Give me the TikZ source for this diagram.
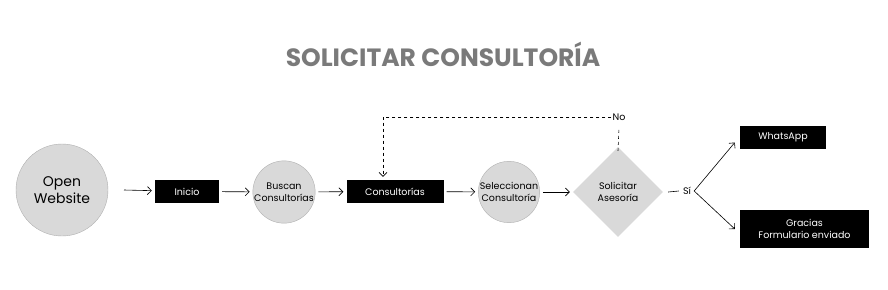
\documentclass[tikz,border=0pt]{standalone}
\usepackage{fontspec}
\setmainfont{Poppins}
\usetikzlibrary{positioning,shapes.geometric,arrows.meta}
\definecolor{circfill}{HTML}{D9D9D9}
\definecolor{circline}{HTML}{B0B0B0}
\definecolor{titlegray}{HTML}{7A7A7A}

\begin{document}
\begin{tikzpicture}[x=1pt, y=-1pt, every node/.style={font=\fontsize{9.5}{12}\selectfont}]
    \tikzset{box/.style={rectangle, fill=black, text=white, align=center, inner sep=0pt, minimum height=23pt}}
    \tikzset{circ/.style={circle, draw=circline, fill=circfill, align=center, inner sep=0pt}}
    \tikzset{line/.style={draw, -{Straight Barb[length=4pt, width=8pt]}, semithick, shorten <=3pt, shorten >=3pt}}

    \useasboundingbox (0,0) rectangle (888,289);

    \node [font=\fontsize{25}{29}\selectfont\bfseries, text=titlegray] (title) at (443,54) {SOLICITAR CONSULTORÍA};

    \node [circ, minimum size=92pt, font=\fontsize{14}{17}\selectfont] (web) at (62,190) {Open\\Website};
    \node [box, minimum width=64pt] (ini) at (187,191.5) {Inicio};
    \node [circ, minimum size=59pt] (bus) at (284,192) {Buscan\\Consultorías};
    \node [box, minimum width=97pt] (cons) at (395,191.5) {Consultorías};
    \node [circ, minimum size=60pt] (sel) at (509,192) {Seleccionan\\Consultoría};
    \node [diamond, fill=circfill, minimum size=90pt, inner sep=0pt, align=center] (sol) at (618,192) {Solicitar\\Asesoría};
    \node [inner sep=1pt] (no) at (619,117) {No};
    \node [inner sep=1pt] (si) at (687,191) {Sí};
    \node [box, minimum width=86pt] (wa) at (783,137.5) {WhatsApp};
    \node [box, minimum width=129pt, minimum height=38pt] (gra) at (804.5,229) {Gracias\\Formulario enviado};

    \path [line, shorten <=0pt] ([xshift=62pt]web.center) -- (ini);
    \path [line] (ini) -- (bus);
    \path [line] (bus) -- (cons);
    \path [line] (cons) -- (sel);
    \path [line] (sel) -- (sol);
    \draw [semithick] ([xshift=5pt]sol.east) -- ([xshift=-3pt]si.west);
    \path [line, shorten <=0pt, shorten >=0pt] ([xshift=2pt]si.east) -- ([xshift=-5pt, yshift=-5pt]wa.west);
    \path [line, shorten <=0pt, shorten >=0pt] ([xshift=2pt]si.east) -- ([xshift=-5pt]gra.west);

    \draw [dashed, semithick] ([yshift=-4pt]sol.north) -- ([yshift=-6pt]no.south);
    \draw [line, dashed, shorten <=0pt] (no.west) -| ([xshift=-12pt]cons.north);
\end{tikzpicture}
\end{document}
